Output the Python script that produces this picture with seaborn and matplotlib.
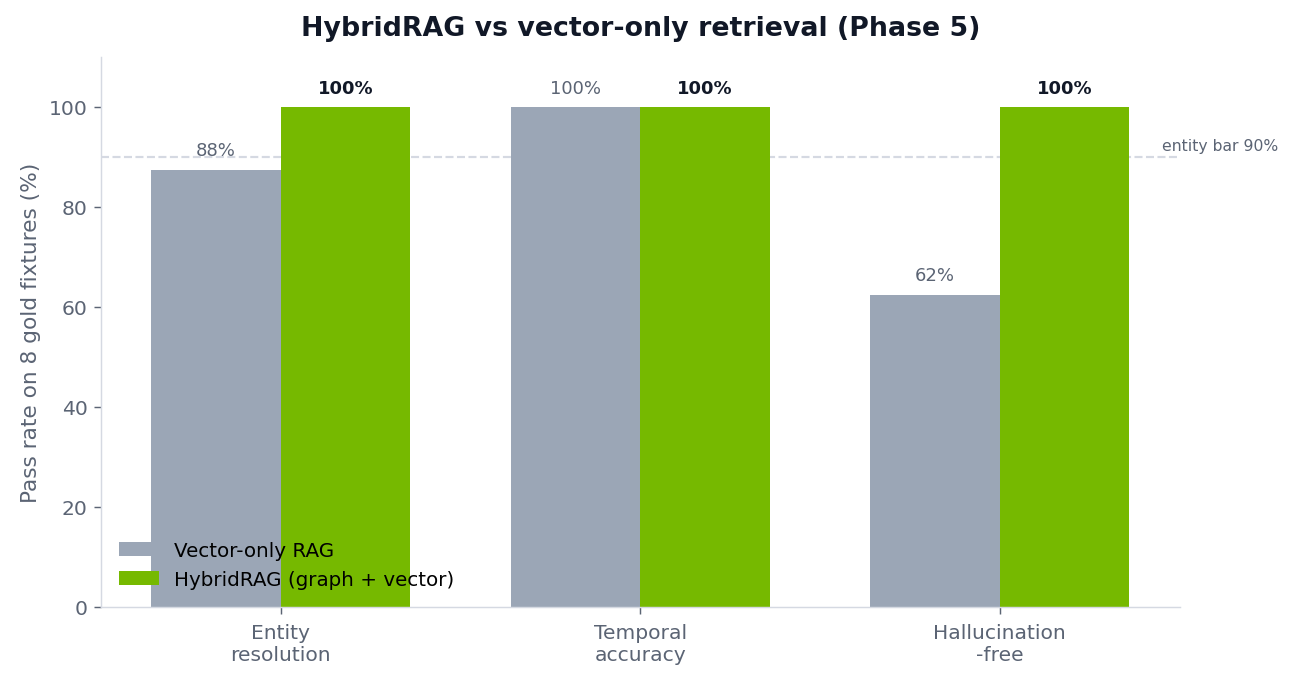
#HybridRAG vs vector-only, phase 5

import matplotlib
matplotlib.use('Agg')
import matplotlib.pyplot as plt
import seaborn as sns
import pandas as pd

#data
kategori = ['Entity\nresolution', 'Temporal\naccuracy', 'Hallucination\n-free']
vector_only = [87.5, 100.0, 62.5]
hybrid = [100.0, 100.0, 100.0]
seri = ['Vector-only RAG', 'HybridRAG (graph + vector)']
ambang = 90

df = pd.DataFrame({
    'kategori': kategori * 2,
    'nilai': vector_only + hybrid,
    'seri': [seri[0]] * 3 + [seri[1]] * 3,
})

sns.set_style('white')
plt.rcParams['font.family'] = ['DejaVu Sans']

abu = '#5b6474'
warna = {seri[0]: '#9ba6b6', seri[1]: '#76b900'}

fig, ax = plt.subplots(figsize=(9.96, 5.29), dpi=130)
ax.axhline(ambang, color='#d5d9e2', linestyle='--', linewidth=1.2, zorder=0)
sns.barplot(data=df, x='kategori', y='nilai', hue='seri', palette=warna,
            width=0.72, saturation=1, linewidth=0, ax=ax, zorder=2)

#label nilai
for i, bars in enumerate(ax.containers):
    for b in bars:
        h = b.get_height()
        if i == 0:
            ax.text(b.get_x() + b.get_width() / 2, h + 2, f'{round(h)}%',
                    ha='center', va='bottom', fontsize=10, color=abu)
        else:
            ax.text(b.get_x() + b.get_width() / 2, h + 2, f'{round(h)}%',
                    ha='center', va='bottom', fontsize=10, color='#111827',
                    fontweight='bold')

ax.text(2.45, ambang + 0.8, 'entity bar 90%', fontsize=8.7, color=abu,
        ha='left', va='bottom')

ax.set_xlim(-0.5, 2.5)
ax.set_ylim(0, 110)
ax.set_xlabel('')
ax.set_ylabel('Pass rate on 8 gold fixtures (%)', fontsize=12, color=abu)
ax.set_title('HybridRAG vs vector-only retrieval (Phase 5)', fontsize=14.8,
             fontweight='bold', color='#111827', pad=12)
ax.tick_params(axis='both', colors=abu, labelsize=11.2, length=4,
               left=True, bottom=True)
ax.tick_params(axis='x', pad=5)
for s in ['top', 'right']:
    ax.spines[s].set_visible(False)
for s in ['left', 'bottom']:
    ax.spines[s].set_color('#d5d9e2')

ax.legend(loc='lower left', frameon=False, fontsize=11, title=None,
          labelcolor='black')

plt.subplots_adjust(left=0.078, right=0.911, bottom=0.1163, top=0.9157)
plt.savefig('out.png', dpi=130)
